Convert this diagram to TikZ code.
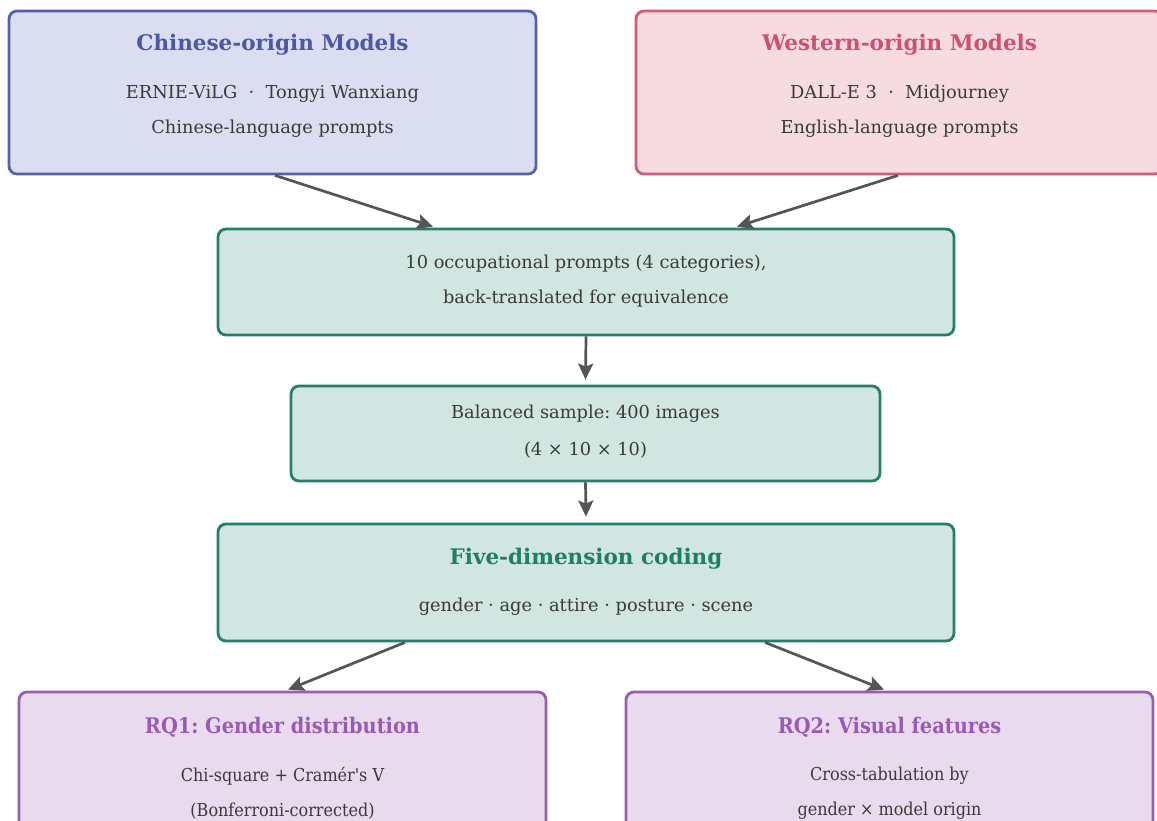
\documentclass[tikz,border=0pt]{standalone}
\usepackage{fontspec}
\setmainfont{DejaVu Serif}
\usetikzlibrary{arrows.meta}
\frenchspacing

\definecolor{txt}{HTML}{3A3A3A}
\definecolor{arr}{HTML}{555555}
\definecolor{cnline}{HTML}{5461AE}
\definecolor{cnfill}{HTML}{DADEF0}
\definecolor{cntitle}{HTML}{4C57A6}
\definecolor{wsline}{HTML}{D45A79}
\definecolor{wsfill}{HTML}{F6DCE1}
\definecolor{wstitle}{HTML}{D0506E}
\definecolor{gnline}{HTML}{23806A}
\definecolor{gnfill}{HTML}{D1E5E1}
\definecolor{gntitle}{HTML}{1E7F68}
\definecolor{rqline}{HTML}{9A5DB2}
\definecolor{rqfill}{HTML}{E8DBEE}
\definecolor{rqtitle}{HTML}{9B59B6}

\tikzset{
  box/.style={draw, rounded corners=8pt, line width=2.8pt, inner sep=0pt},
  head/.style={font=\bfseries\fontsize{21.5}{24}\selectfont},
  body/.style={text=txt, font=\fontsize{17.8}{21}\selectfont},
  narrow/.style={xscale=0.9, transform shape},
  flow/.style={draw=arr, line width=2.7pt, -{Stealth[length=16pt,width=15pt,inset=3pt]}}
}

\begin{document}
\begin{tikzpicture}[x=1pt,y=-1pt]
\clip (0,0) rectangle (1157,821);
\fill [white] (0,0) rectangle (1157,821);

\node [box, draw=cnline, fill=cnfill, minimum width=527pt, minimum height=163pt] (chinese) at (272.5,92.5) {};
\node [head, text=cntitle] (chinesehead) at (272.5,45) {Chinese-origin Models};
\node [body] (chinesemodels) at (272.5,94) {ERNIE-ViLG~~·~~Tongyi Wanxiang};
\node [body] (chineselang) at (272.5,129) {Chinese-language prompts};

\node [box, draw=wsline, fill=wsfill, minimum width=527pt, minimum height=163pt] (western) at (899.5,92.5) {};
\node [head, text=wstitle] (westernhead) at (899.5,45) {Western-origin Models};
\node [body] (westernmodels) at (899.5,94) {DALL-E 3~~·~~Midjourney};
\node [body] (westernlang) at (899.5,129) {English-language prompts};

\node [box, draw=gnline, fill=gnfill, minimum width=736pt, minimum height=106pt] (prompts) at (586,282) {};
\node [body] (promptsa) at (586,264) {10 occupational prompts (4 categories),};
\node [body] (promptsb) at (586,299) {back-translated for equivalence};

\node [box, draw=gnline, fill=gnfill, minimum width=589pt, minimum height=95pt] (sample) at (585.5,433.5) {};
\node [body] (samplea) at (585.5,414) {Balanced sample: 400 images};
\node [body] (sampleb) at (585.5,450) {(4 × 10 × 10)};

\node [box, draw=gnline, fill=gnfill, minimum width=736pt, minimum height=117pt] (coding) at (586,582.5) {};
\node [head, text=gntitle] (codinghead) at (586,559) {Five-dimension coding};
\node [body] (codingdims) at (586,607) {gender · age · attire · posture · scene};

\node [box, draw=rqline, fill=rqfill, minimum width=527pt, minimum height=163pt] (rqone) at (282.5,773.5) {};
\node [head, narrow, text=rqtitle] (rqonehead) at (282.5,727) {RQ1: Gender distribution};
\node [body, narrow] (rqonetest) at (282.5,776) {Chi-square + Cramér\textquotesingle s V};
\node [body, narrow] (rqonecorr) at (282.5,811) {(Bonferroni-corrected)};

\node [box, draw=rqline, fill=rqfill, minimum width=527pt, minimum height=163pt] (rqtwo) at (889.5,773.5) {};
\node [head, narrow, text=rqtitle] (rqtwohead) at (889.5,727) {RQ2: Visual features};
\node [body, narrow] (rqtwotab) at (889.5,776) {Cross-tabulation by};
\node [body, narrow] (rqtwoby) at (889.5,811) {gender × model origin};

\draw [flow] ([xshift=2.5pt]chinese.south) -- ([xshift=-153pt,yshift=1pt]prompts.north);
\draw [flow] ([xshift=-1.5pt]western.south) -- ([xshift=151pt,yshift=1pt]prompts.north);
\draw [flow] (prompts.south) -- ([yshift=5pt]sample.north);
\draw [flow] (sample.south) -- ([yshift=6pt]coding.north);
\draw [flow] ([xshift=-181pt]coding.south) -- ([xshift=5.5pt,yshift=1pt]rqone.north);
\draw [flow] ([xshift=179pt]coding.south) -- ([xshift=-5.5pt,yshift=1pt]rqtwo.north);
\end{tikzpicture}
\end{document}
